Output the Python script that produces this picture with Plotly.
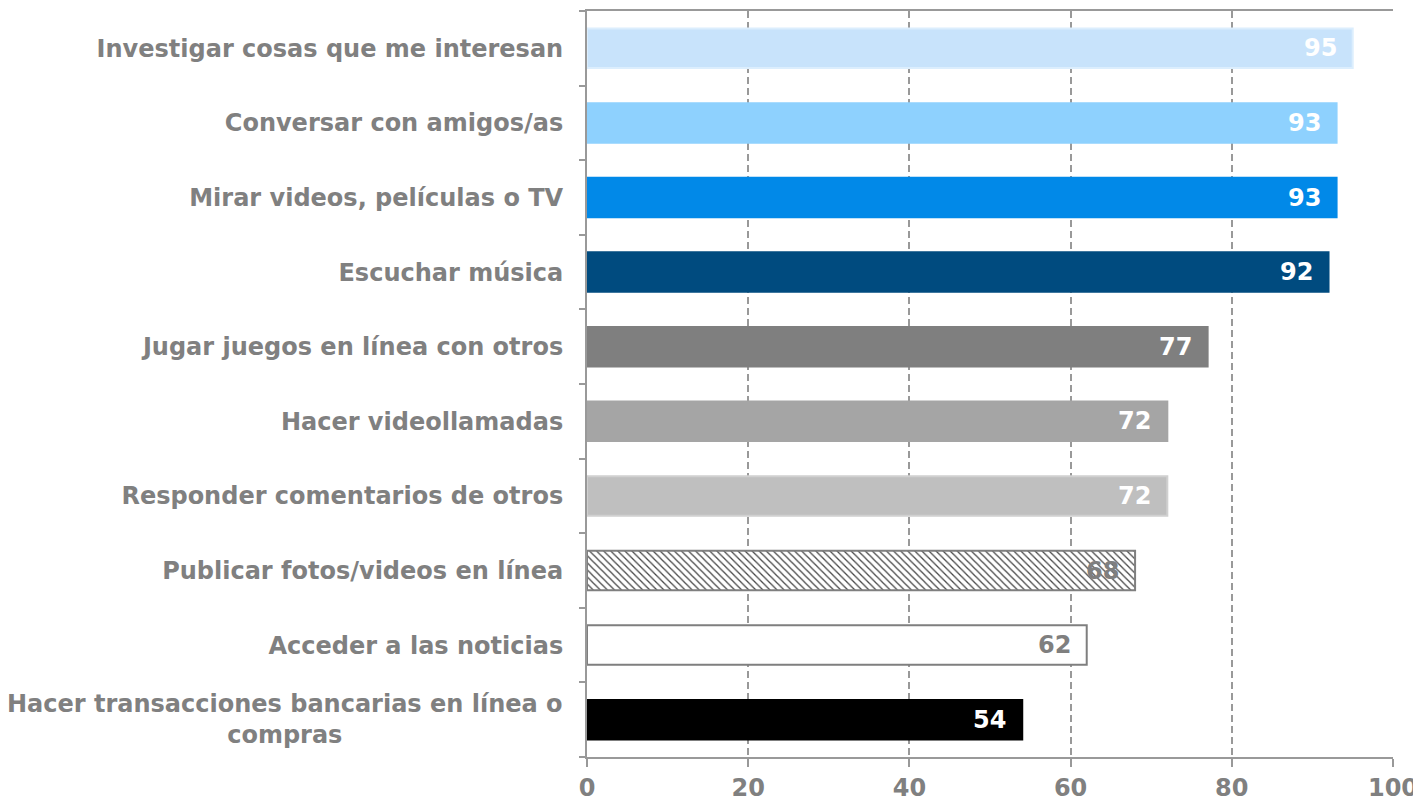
import plotly.graph_objects as go

categories = [
    "Investigar cosas que me interesan",
    "Conversar con amigos/as",
    "Mirar videos, películas o TV",
    "Escuchar música",
    "Jugar juegos en línea con otros",
    "Hacer videollamadas",
    "Responder comentarios de otros",
    "Publicar fotos/videos en línea",
    "Acceder a las noticias",
    "Hacer transacciones bancarias en línea o<br>compras",
]
values = [95, 93, 93, 92, 77, 72, 72, 68, 62, 54]
x_ticks = [0, 20, 40, 60, 80, 100]

bar_colors = ["#C8E3FB", "#8ED1FE", "#0189E8", "#004B7F", "#7F7F7F",
              "#A5A5A5", "#BFBFBF", "#FFFFFF", "#FFFFFF", "#000000"]
line_colors = ["#DCEEFD", "#8ED1FE", "#0189E8", "#004B7F", "#7F7F7F",
               "#A5A5A5", "#D0D0D0", "#7F7F7F", "#7F7F7F", "#000000"]
text_colors = ["#FFFFFF", "#FFFFFF", "#FFFFFF", "#FFFFFF", "#FFFFFF",
               "#FFFFFF", "#FFFFFF", "#7F7F7F", "#7F7F7F", "#FFFFFF"]
shapes = ["", "", "", "", "", "", "", "\\", "", ""]

GRAY = "#808080"
AXIS = "#999999"
FONT = "DejaVu Sans"

fig = go.Figure()
fig.add_trace(go.Bar(
    y=categories,
    x=values,
    orientation="h",
    width=0.53,
    marker=dict(
        color=bar_colors,
        line=dict(color=line_colors, width=2),
        pattern=dict(shape=shapes, fgcolor="#8C8C8C", fgopacity=1,
                     size=5, solidity=0.25),
    ),
    hoverinfo="skip",
))

annotations = []
for cat, v, tc in zip(categories, values, text_colors):
    annotations.append(dict(
        xref="x", yref="y", x=v, y=cat, xanchor="right", yanchor="middle",
        xshift=-14, text=f"<b>{v}</b>", showarrow=False,
        font=dict(family=FONT, size=24, color=tc),
    ))

ticktext = [c if "<br>" not in c else "" for c in categories]

annotations.append(dict(
    xref="paper", yref="y", x=0, y=categories[-1],
    xanchor="right", yanchor="middle", xshift=-22,
    text=f"<b>{categories[-1]}</b>", align="center", showarrow=False,
    font=dict(family=FONT, size=24, color=GRAY),
))

fig.update_layout(
    width=1413, height=795,
    margin=dict(l=579, r=28, t=1, b=40),
    paper_bgcolor="white", plot_bgcolor="white",
    showlegend=False,
    xaxis=dict(
        range=[0, 100], tickvals=x_ticks,
        showline=True, linecolor=AXIS, linewidth=2, mirror=True,
        ticks="outside", ticklen=8, tickcolor=AXIS, tickwidth=2,
        showgrid=True, gridcolor=AXIS, griddash="7px,4px", gridwidth=2,
        tickfont=dict(family=FONT, size=24, color=GRAY, weight="bold"),
        zeroline=False,
    ),
    yaxis=dict(
        autorange="reversed",
        tickmode="array", tickvals=categories, ticktext=ticktext,
        tickson="boundaries",
        showline=True, linecolor=AXIS, linewidth=2,
        ticks="outside", ticklen=6, tickcolor=AXIS, tickwidth=2,
        showgrid=False,
        tickfont=dict(family=FONT, size=24, color=GRAY, weight="bold"),
        ticklabelstandoff=17,
    ),
    annotations=annotations,
)

fig.write_html("out.html")
